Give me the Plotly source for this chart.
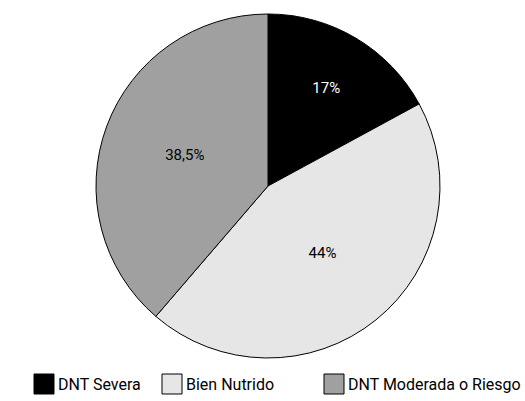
import plotly.graph_objects as go

labels = ["DNT Severa", "Bien Nutrido", "DNT Moderada o Riesgo"]
values = [17, 44, 38.5]
text_labels = ["17%", "44%", "38,5%"]
colors = ["#000000", "#e6e6e6", "#a0a0a0"]
text_colors = ["#ffffff", "#000000", "#000000"]

W, H = 525, 401
FONT = "Roboto"

fig = go.Figure()
fig.add_trace(go.Pie(
    labels=labels,
    values=values,
    text=text_labels,
    textinfo="text",
    textposition="inside",
    insidetextorientation="horizontal",
    insidetextfont=dict(color=text_colors, size=15, family=FONT),
    marker=dict(colors=colors, line=dict(color="#000000", width=1)),
    sort=False,
    direction="clockwise",
    rotation=0,
    showlegend=False,
    hoverinfo="label+text",
    domain=dict(x=[96 / W, 440 / W], y=[(H - 358) / H, (H - 14) / H]),
))

# Manual legend (square swatches + labels)
legend_x = [34, 162, 324]
sw = 20
y_top, y_bot = 374, 394
for lab, col, lx in zip(labels, colors, legend_x):
    fig.add_shape(type="rect", xref="paper", yref="paper",
                  x0=lx / W, x1=(lx + sw) / W,
                  y0=1 - y_bot / H, y1=1 - y_top / H,
                  fillcolor=col, line=dict(color="#000000", width=1))
    fig.add_annotation(x=(lx + sw + 2) / W, y=1 - (y_top + y_bot + 1) / 2 / H,
                       xref="paper", yref="paper", xanchor="left", yanchor="middle",
                       text=lab, showarrow=False,
                       font=dict(size=16, color="#000000", family=FONT))

fig.update_layout(
    width=W, height=H,
    margin=dict(l=0, r=0, t=0, b=0),
    paper_bgcolor="#ffffff",
    plot_bgcolor="#ffffff",
)

fig.write_html("out.html")
